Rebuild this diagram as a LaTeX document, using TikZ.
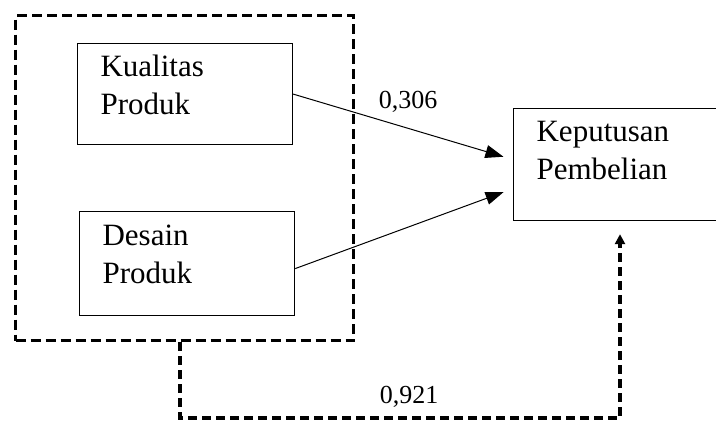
\documentclass[tikz,border=0pt]{standalone}
\usepackage{fontspec}
\setmainfont{Liberation Serif}
\usetikzlibrary{arrows.meta}
\usetikzlibrary{positioning}

\tikzset{
  varbox/.style={draw, line width=0.6pt, anchor=north west, align=left,
    inner xsep=11.5pt, inner ysep=0pt, text width=84.5pt,
    font=\fontsize{15.5}{19}\selectfont},
  groupbox/.style={draw, line width=1.7pt, dash pattern=on 5pt off 2.5pt,
    anchor=north west, inner sep=0pt},
  effect/.style={line width=0.5pt, -{Triangle[length=9pt,width=6.5pt]}},
  simul/.style={line width=1.7pt, dash pattern=on 4.5pt off 2.5pt,
    -{Triangle[length=5pt,width=5pt]}},
  coef/.style={font=\fontsize{13}{15}\selectfont, inner sep=0pt}
}

\begin{document}
\begin{tikzpicture}[x=0.5pt, y=-0.5pt]
  \useasboundingbox (0, 0) rectangle (716, 421);

  \node [groupbox, minimum width=169pt, minimum height=162.5pt] (grp) at (14, 14) {};

  \node [varbox, minimum width=107.5pt, minimum height=50.5pt, text depth=28.5pt] (kp) at (77, 43) {Kualitas\\Produk};
  \node [varbox, minimum width=107.5pt, minimum height=52pt, text depth=28pt] (dp) at (79, 211) {Desain\\Produk};
  \node [varbox, text width=97pt, minimum width=120pt, minimum height=56pt, text depth=33.7pt] (kep) at (513, 108) {Keputusan\\Pembelian};

  \draw [effect, shorten >=5pt] (kp.east) -- ([yshift=2.5pt]kep.west);
  \draw [effect, shorten >=5pt] ([yshift=-2.5pt]dp.east) -- ([yshift=-12pt]kep.west);

  \coordinate (lo) at (180, 418);
  \coordinate (ro) at (620, 418);
  \draw [simul, shorten >=6.5pt] (grp.south -| lo) -- (lo) -- (ro) -- (kep.south -| ro);

  \node [coef] (b1) at (408, 102) {0,306};
  \node [coef] (b2) at (409, 397) {0,921};
\end{tikzpicture}
\end{document}
